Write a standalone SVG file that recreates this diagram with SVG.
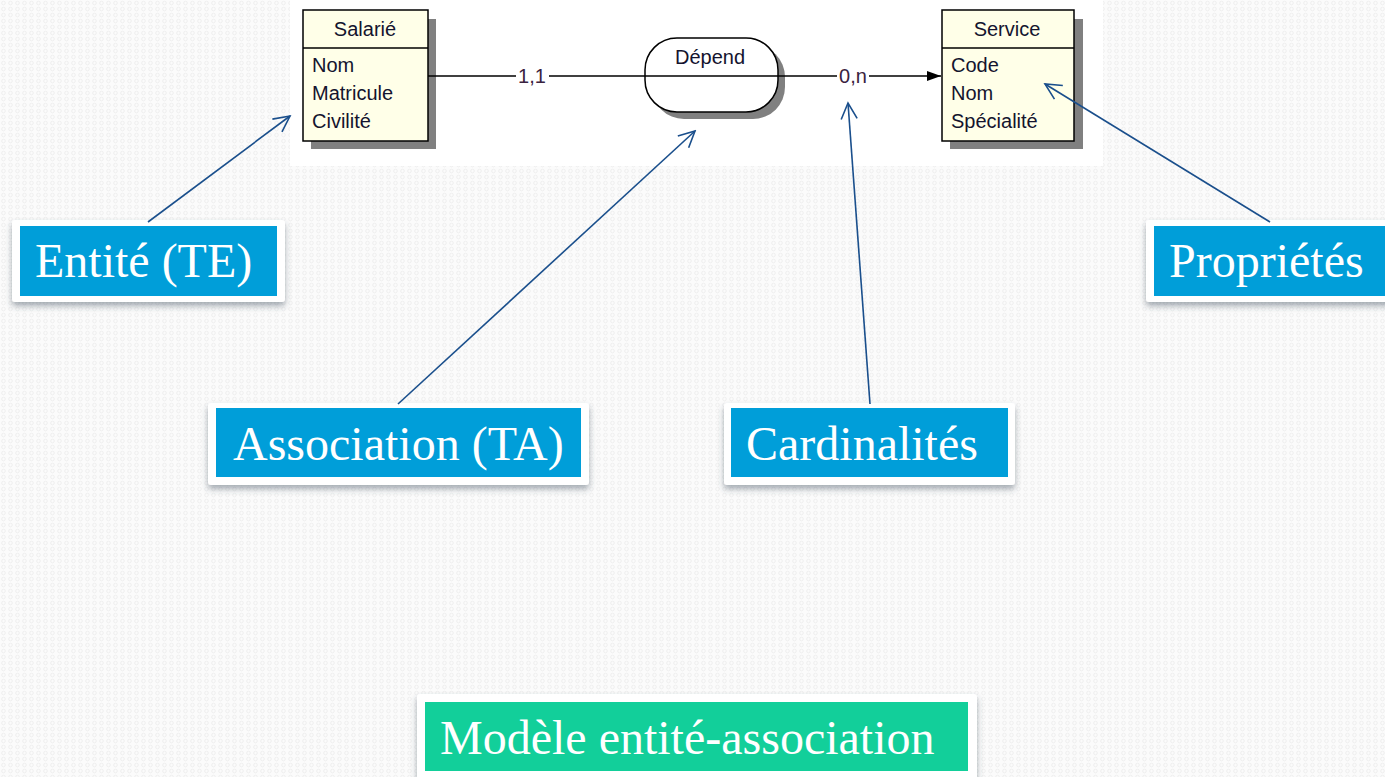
<svg xmlns="http://www.w3.org/2000/svg" width="1385" height="777" viewBox="0 0 1385 777">
<defs>
<pattern id="bg" width="7" height="6" patternUnits="userSpaceOnUse">
<rect width="7" height="6" fill="#fbfbfb"/>
<circle cx="3.5" cy="3" r="1.8" fill="none" stroke="#ebebeb" stroke-width="0.8"/>
</pattern>
<filter id="sh" x="-10%" y="-20%" width="120%" height="150%">
<feDropShadow dx="0" dy="4" stdDeviation="3" flood-color="#3a4a5a" flood-opacity="0.45"/>
</filter>
<marker id="open" viewBox="0 0 20 20" refX="18" refY="10" markerWidth="20" markerHeight="20" markerUnits="userSpaceOnUse" orient="auto">
<path d="M2,2 L18,10 L2,18" fill="none" stroke="#1a4f8c" stroke-width="1.6"/>
</marker>
<marker id="solid" viewBox="0 0 14 12" refX="14" refY="6" markerWidth="14" markerHeight="12" markerUnits="userSpaceOnUse" orient="auto">
<path d="M0,1 L14,6 L0,11 Z" fill="#000"/>
</marker>
</defs>
<style>
.er{font-family:"Liberation Sans",Arial,sans-serif;font-size:20px;fill:#14142e}
.card{font-family:"Liberation Sans",Arial,sans-serif;font-size:20px;fill:#3a2240}
.ent{fill:#ffffe8;stroke:#000;stroke-width:1.5}
.shadow{fill:#808080}
.lbl{font-family:"Liberation Serif","Times New Roman",serif;font-size:48px;fill:#ffffff}
.frame{fill:#ffffff}
.blue{fill:#009ed9}
.green{fill:#12cf9a}
.conn{stroke:#000;stroke-width:1.5;fill:none}
.ptr{stroke:#1a4f8c;stroke-width:1.6;fill:none}
</style>
<rect width="1385" height="777" fill="url(#bg)"/>
<rect x="290" y="0" width="813" height="166" fill="#ffffff"/>

<g id="salarie">
<rect class="shadow" x="311" y="19" width="125" height="130"/>
<rect class="ent" x="303" y="10" width="125" height="131"/>
<line x1="303" y1="48" x2="428" y2="48" stroke="#000" stroke-width="1.5"/>
<text class="er" x="365" y="36" text-anchor="middle">Salarié</text>
<text class="er" x="312" y="72">Nom</text>
<text class="er" x="312" y="100">Matricule</text>
<text class="er" x="312" y="128">Civilité</text>
</g>

<g id="depend">
<rect class="shadow" x="652" y="45" width="133" height="74" rx="32"/>
<rect x="645" y="38" width="133" height="74" rx="32" fill="#ffffff" stroke="#000" stroke-width="1.5"/>
<line x1="645" y1="76" x2="778" y2="76" stroke="#000" stroke-width="1.5"/>
<text class="er" x="710" y="64" text-anchor="middle">Dépend</text>
</g>

<g id="service">
<rect class="shadow" x="950" y="19" width="133" height="130"/>
<rect class="ent" x="942" y="10" width="132" height="131"/>
<line x1="942" y1="48" x2="1074" y2="48" stroke="#000" stroke-width="1.5"/>
<text class="er" x="1007" y="36" text-anchor="middle">Service</text>
<text class="er" x="951" y="72">Code</text>
<text class="er" x="951" y="100">Nom</text>
<text class="er" x="951" y="128">Spécialité</text>
</g>

<g id="lbl-entite">
<rect class="frame" x="12" y="220" width="273" height="82" rx="3" filter="url(#sh)"/>
<rect class="blue" x="20" y="226" width="257" height="70"/>
<text class="lbl" x="35" y="277">Entité (TE)</text>
</g>

<g id="lbl-proprietes">
<rect class="frame" x="1146" y="220" width="250" height="82" rx="3" filter="url(#sh)"/>
<rect class="blue" x="1154" y="226" width="240" height="70"/>
<text class="lbl" x="1169" y="277">Propriétés</text>
</g>

<g id="lbl-association">
<rect class="frame" x="208" y="403" width="381" height="82" rx="3" filter="url(#sh)"/>
<rect class="blue" x="216" y="408" width="365" height="69"/>
<text class="lbl" x="233" y="460">Association (TA)</text>
</g>

<g id="lbl-cardinalites">
<rect class="frame" x="724" y="403" width="291" height="82" rx="3" filter="url(#sh)"/>
<rect class="blue" x="731" y="408" width="277" height="69"/>
<text class="lbl" x="746" y="460">Cardinalités</text>
</g>

<g id="lbl-modele">
<rect class="frame" x="417" y="694" width="560" height="90" rx="3" filter="url(#sh)"/>
<rect class="green" x="425" y="702" width="543" height="69"/>
<text class="lbl" x="440" y="754">Modèle entité-association</text>
</g>

<g id="connectors">
<line class="conn" x1="428" y1="76" x2="516" y2="76"/>
<line class="conn" x1="549" y1="76" x2="645" y2="76"/>
<text class="card" x="532" y="83" text-anchor="middle">1,1</text>
<line class="conn" x1="778" y1="76" x2="837" y2="76"/>
<line class="conn" x1="869" y1="76" x2="941" y2="76" marker-end="url(#solid)"/>
<text class="card" x="853" y="83" text-anchor="middle">0,n</text>
<line class="ptr" x1="148" y1="222" x2="290" y2="116" marker-end="url(#open)"/>
<line class="ptr" x1="398" y1="404" x2="695" y2="131" marker-end="url(#open)"/>
<line class="ptr" x1="870" y1="404" x2="848" y2="103" marker-end="url(#open)"/>
<line class="ptr" x1="1270" y1="222" x2="1045" y2="84" marker-end="url(#open)"/>
</g>
</svg>
